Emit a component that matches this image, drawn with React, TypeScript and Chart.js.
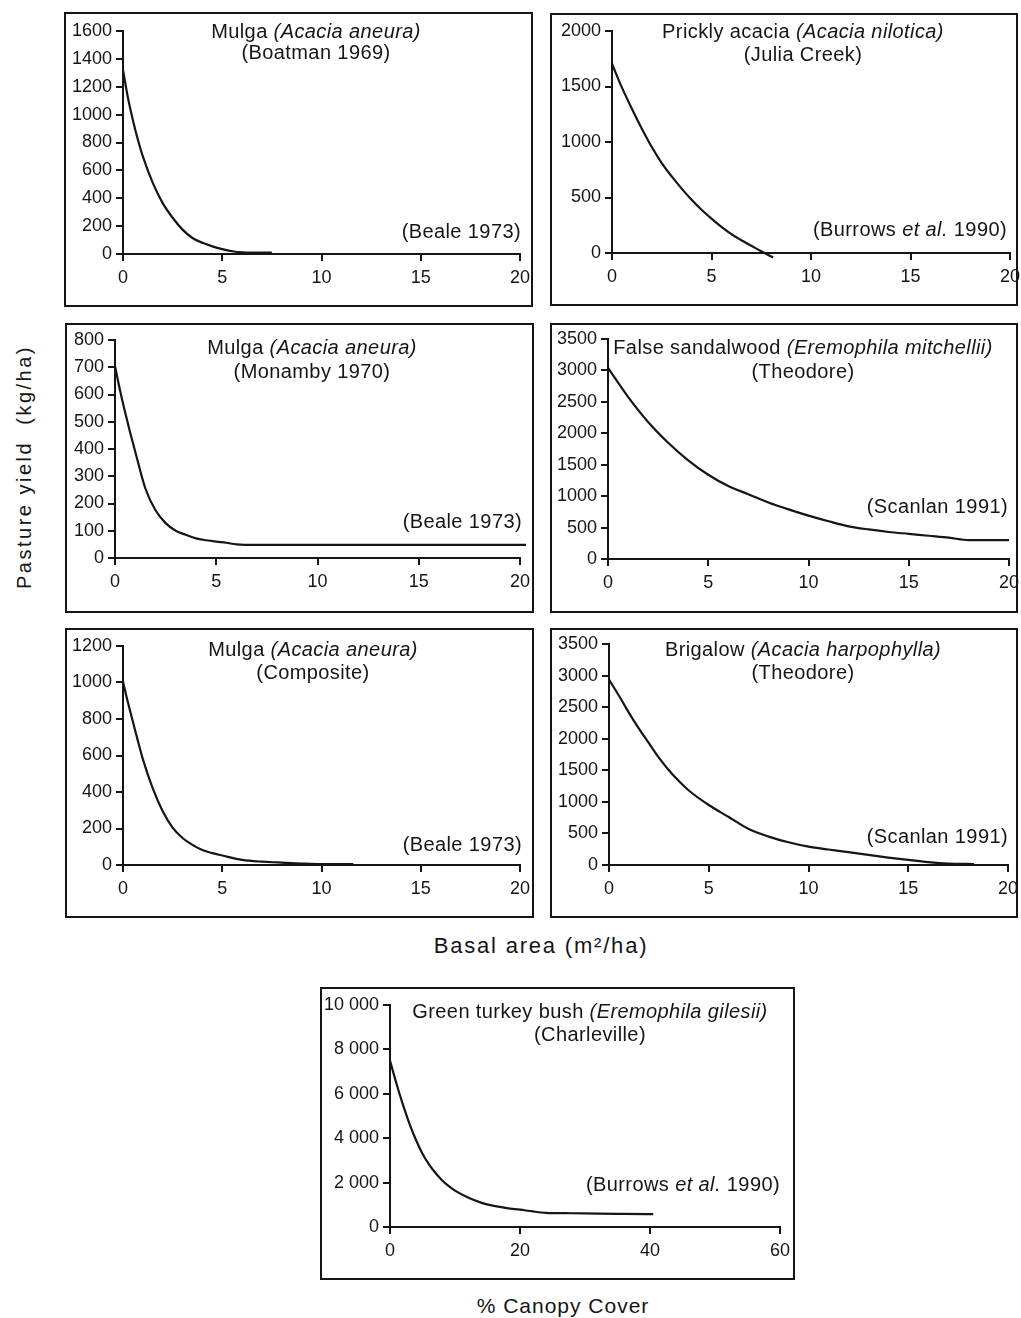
import React, { useEffect, useRef } from "react";
import { Chart, registerables } from "chart.js";
Chart.register(...registerables);

// ---------- data ----------
const boatmanX = [0, 0.25, 0.5, 0.75, 1, 1.5, 2, 2.5, 3, 3.5, 4, 4.5, 5, 5.5, 6, 6.5, 7, 7.5];
const boatmanY = [1320, 1120, 960, 820, 700, 510, 365, 260, 175, 115, 80, 55, 35, 20, 12, 10, 10, 10];

const juliaCreekX = [0, 0.5, 1, 1.5, 2, 2.5, 3, 3.5, 4, 4.5, 5, 5.5, 6, 6.5, 7, 7.5, 8.1];
const juliaCreekY = [1705, 1490, 1300, 1120, 955, 810, 690, 580, 480, 390, 310, 235, 170, 115, 65, 15, -40];

const monambyX = [0, 0.25, 0.5, 0.75, 1, 1.5, 2, 2.5, 3, 3.5, 4, 4.5, 5, 5.5, 6, 7, 10, 15, 20.3];
const monambyY = [705, 615, 535, 460, 390, 255, 175, 128, 100, 85, 72, 65, 60, 56, 50, 48, 48, 48, 48];

const sandalwoodX = [0, 1, 2, 3, 4, 5, 6, 7, 8, 9, 10, 11, 12, 13, 14, 15, 16, 17, 18, 19, 20, 20.3];
const sandalwoodY = [3040, 2580, 2180, 1850, 1570, 1340, 1160, 1030, 900, 790, 690, 600, 520, 470, 430, 400, 370, 340, 300, 300, 300, 300];

const compositeX = [0, 0.25, 0.5, 0.75, 1, 1.5, 2, 2.5, 3, 3.5, 4, 4.5, 5, 6, 7, 7.8, 9, 10, 11, 11.6];
const compositeY = [1005, 890, 785, 680, 580, 420, 295, 205, 148, 110, 82, 65, 52, 28, 18, 14, 8, 5, 5, 5];

const brigalowX = [0, 0.5, 1, 1.5, 2, 2.5, 3, 3.5, 4, 5, 6, 7, 8, 9, 10, 11, 12, 13, 14, 15, 16, 17, 18.3];
const brigalowY = [2935, 2680, 2410, 2160, 1930, 1700, 1500, 1330, 1180, 950, 760, 570, 450, 360, 290, 245, 205, 160, 118, 80, 45, 22, 15];

const turkeyBushX = [0, 1, 2, 3, 4, 5, 6, 7, 8, 9, 10, 12, 14, 16, 18, 20, 22, 24, 28, 32, 36, 40.5];
const turkeyBushY = [7500, 6450, 5500, 4650, 3920, 3300, 2820, 2430, 2110, 1850, 1640, 1330, 1100, 950, 850, 780, 700, 640, 620, 600, 590, 580];

// axis ranges / tick steps
const basalAxis = { max: 20, step: 5 };
const canopyAxis = { max: 60, step: 20 };
const yAxisBoatman = { max: 1600, step: 200 };
const yAxisJulia = { max: 2000, step: 500 };
const yAxisMonamby = { max: 800, step: 100 };
const yAxisSandalwood = { max: 3500, step: 500 };
const yAxisComposite = { max: 1200, step: 200 };
const yAxisBrigalow = { max: 3500, step: 500 };
const yAxisTurkey = { max: 10000, step: 2000 };

// texts
type Seg = { t: string; it?: boolean };
const titleBoatman: Seg[][] = [[{ t: "Mulga " }, { t: "(Acacia aneura)", it: true }], [{ t: "(Boatman 1969)" }]];
const titleJulia: Seg[][] = [[{ t: "Prickly acacia " }, { t: "(Acacia nilotica)", it: true }], [{ t: "(Julia Creek)" }]];
const titleMonamby: Seg[][] = [[{ t: "Mulga " }, { t: "(Acacia aneura)", it: true }], [{ t: "(Monamby 1970)" }]];
const titleSandalwood: Seg[][] = [[{ t: "False sandalwood " }, { t: "(Eremophila mitchellii)", it: true }], [{ t: "(Theodore)" }]];
const titleComposite: Seg[][] = [[{ t: "Mulga " }, { t: "(Acacia aneura)", it: true }], [{ t: "(Composite)" }]];
const titleBrigalow: Seg[][] = [[{ t: "Brigalow " }, { t: "(Acacia harpophylla)", it: true }], [{ t: "(Theodore)" }]];
const titleTurkey: Seg[][] = [[{ t: "Green turkey bush " }, { t: "(Eremophila gilesii)", it: true }], [{ t: "(Charleville)" }]];
const noteBeale: Seg[] = [{ t: "(Beale 1973)" }];
const noteBurrows: Seg[] = [{ t: "(Burrows " }, { t: "et al.", it: true }, { t: " 1990)" }];
const noteScanlan: Seg[] = [{ t: "(Scanlan 1991)" }];

const yTitle = "Pasture yield  (kg/ha)";
const xTitleBasal = "Basal area (m\u00B2/ha)";
const xTitleCanopy = "% Canopy Cover";

// ---------- layout ----------
const FONT = '"Liberation Sans", Arial, Helvetica, sans-serif';
const INK = "#151515";
const M = 6; // canvas margin outside the framed box

type Panel = {
  key: string;
  box: [number, number, number, number]; // left, top, right, bottom (page px)
  x0: number; xEnd: number; y0: number; yTop: number;
  xs: number[]; ys: number[];
  xAxis: { max: number; step: number };
  yAxis: { max: number; step: number };
  title: Seg[][]; titleCx: number; titleYs: number[];
  note: Seg[]; noteRight: number; noteY: number;
  spaced?: boolean;
};

const panels: Panel[] = [
  { key: "p1", box: [64, 12, 533, 307], x0: 123, xEnd: 520, y0: 254, yTop: 31, xs: boatmanX, ys: boatmanY, xAxis: basalAxis, yAxis: yAxisBoatman, title: titleBoatman, titleCx: 316, titleYs: [32, 53], note: noteBeale, noteRight: 521, noteY: 232 },
  { key: "p2", box: [550, 13, 1018, 306], x0: 612, xEnd: 1010, y0: 253, yTop: 31, xs: juliaCreekX, ys: juliaCreekY, xAxis: basalAxis, yAxis: yAxisJulia, title: titleJulia, titleCx: 803, titleYs: [32, 55], note: noteBurrows, noteRight: 1007, noteY: 230 },
  { key: "p3", box: [65, 323, 534, 613], x0: 115, xEnd: 520, y0: 558, yTop: 340, xs: monambyX, ys: monambyY, xAxis: basalAxis, yAxis: yAxisMonamby, title: titleMonamby, titleCx: 312, titleYs: [348, 372], note: noteBeale, noteRight: 522, noteY: 522 },
  { key: "p4", box: [550, 323, 1018, 613], x0: 608, xEnd: 1009, y0: 559, yTop: 339, xs: sandalwoodX, ys: sandalwoodY, xAxis: basalAxis, yAxis: yAxisSandalwood, title: titleSandalwood, titleCx: 803, titleYs: [348, 372], note: noteScanlan, noteRight: 1008, noteY: 507 },
  { key: "p5", box: [65, 628, 534, 918], x0: 123, xEnd: 520, y0: 865, yTop: 646, xs: compositeX, ys: compositeY, xAxis: basalAxis, yAxis: yAxisComposite, title: titleComposite, titleCx: 313, titleYs: [650, 673], note: noteBeale, noteRight: 522, noteY: 845 },
  { key: "p6", box: [550, 628, 1018, 918], x0: 609, xEnd: 1008, y0: 865, yTop: 644, xs: brigalowX, ys: brigalowY, xAxis: basalAxis, yAxis: yAxisBrigalow, title: titleBrigalow, titleCx: 803, titleYs: [650, 673], note: noteScanlan, noteRight: 1008, noteY: 837 },
  { key: "p7", box: [320, 987, 795, 1280], x0: 390, xEnd: 780, y0: 1227, yTop: 1005, xs: turkeyBushX, ys: turkeyBushY, xAxis: canopyAxis, yAxis: yAxisTurkey, title: titleTurkey, titleCx: 590, titleYs: [1012, 1035], note: noteBurrows, noteRight: 780, noteY: 1185, spaced: true },
];

const fmtPlain = (v: number) => String(v);
const fmtSpaced = (v: number) => {
  const s = String(Math.round(v));
  return s.length > 3 ? s.slice(0, s.length - 3) + " " + s.slice(s.length - 3) : s;
};

const decorPlugin = {
  id: "panelDecor",
  afterDraw(chart: any, _args: any, opts: any) {
    const ctx = chart.ctx as CanvasRenderingContext2D;
    ctx.save();
    ctx.strokeStyle = INK;
    ctx.lineWidth = 2;
    ctx.strokeRect(M + 1, M + 1, chart.width - 2 * M - 2, chart.height - 2 * M - 2);
    ctx.fillStyle = INK;
    ctx.textBaseline = "middle";
    ctx.textAlign = "left";
    (ctx as any).letterSpacing = "0.4px";
    const fontFor = (it?: boolean) => `${it ? "italic " : ""}20px ${FONT}`;
    const measure = (segs: Seg[]) =>
      segs.reduce((w, s) => {
        ctx.font = fontFor(s.it);
        return w + ctx.measureText(s.t).width;
      }, 0);
    const drawLine = (segs: Seg[], x: number, y: number) => {
      let cx = x;
      segs.forEach((s) => {
        ctx.font = fontFor(s.it);
        ctx.fillText(s.t, cx, y);
        cx += ctx.measureText(s.t).width;
      });
    };
    (opts.lines as Seg[][]).forEach((segs, i) => {
      const w = measure(segs);
      drawLine(segs, opts.cx - w / 2, opts.ys[i]);
    });
    const nw = measure(opts.note);
    drawLine(opts.note, opts.noteRight - nw, opts.noteY);
    ctx.restore();
  },
};

function PanelChart({ p }: { p: Panel }) {
  const ref = useRef<HTMLCanvasElement | null>(null);
  const L = p.box[0] - M;
  const T = p.box[1] - M;
  const R = p.box[2] + M;
  const B = p.box[3] + M;
  const W = R - L;
  const H = B - T;
  useEffect(() => {
    if (!ref.current) return;
    const yW = p.x0 - L;
    const xH = B - p.y0;
    const tickFont = { family: FONT, size: 18 };
    const chart = new Chart(ref.current, {
      type: "line",
      data: {
        datasets: [
          {
            data: p.xs.map((x, i) => ({ x, y: p.ys[i] })),
            borderColor: INK,
            borderWidth: 2.2,
            pointRadius: 0,
            fill: false,
            cubicInterpolationMode: "monotone",
            clip: false as any,
          },
        ],
      },
      options: {
        responsive: false,
        animation: false,
        events: [],
        layout: { padding: { left: 0, top: p.yTop - T, right: R - p.xEnd, bottom: 0 } },
        plugins: {
          legend: { display: false },
          tooltip: { enabled: false },
          title: { display: false },
          panelDecor: {
            lines: p.title,
            cx: p.titleCx - L,
            ys: p.titleYs.map((y) => y - T),
            note: p.note,
            noteRight: p.noteRight - L,
            noteY: p.noteY - T,
          },
        } as any,
        scales: {
          x: {
            type: "linear",
            min: 0,
            max: p.xAxis.max,
            ticks: { stepSize: p.xAxis.step, color: INK, font: tickFont, padding: 6, maxRotation: 0, autoSkip: false, callback: (v: any) => fmtPlain(Number(v)) },
            grid: { drawOnChartArea: false, drawTicks: true, tickLength: 7, color: INK, lineWidth: 2 },
            border: { display: true, color: INK, width: 2 },
            afterFit: (s: any) => {
              s.height = xH;
              s.paddingLeft = 0;
              s.paddingRight = 0;
            },
          },
          y: {
            type: "linear",
            min: 0,
            max: p.yAxis.max,
            ticks: { stepSize: p.yAxis.step, color: INK, font: tickFont, padding: 4, autoSkip: false, callback: (v: any) => (p.spaced ? fmtSpaced(Number(v)) : fmtPlain(Number(v))) },
            grid: { drawOnChartArea: false, drawTicks: true, tickLength: 7, color: INK, lineWidth: 2 },
            border: { display: true, color: INK, width: 2 },
            afterFit: (s: any) => {
              s.width = yW;
              s.paddingTop = 0;
              s.paddingBottom = 0;
            },
          },
        },
      } as any,
      plugins: [decorPlugin as any],
    });
    return () => chart.destroy();
  }, []);
  return (
    <canvas
      ref={ref}
      width={W}
      height={H}
      style={{ position: "absolute", left: L, top: T, width: W, height: H }}
    />
  );
}

export default function App() {
  const label: React.CSSProperties = {
    position: "absolute",
    fontFamily: FONT,
    color: INK,
    whiteSpace: "pre",
    lineHeight: 1,
  };
  return (
    <div style={{ position: "absolute", left: 0, top: 0, width: 1021, height: 1318, background: "#fff", overflow: "hidden" }}>
      {panels.map((p) => (
        <PanelChart key={p.key} p={p} />
      ))}
      <div
        style={{
          ...label,
          fontSize: 20,
          letterSpacing: "2.5px",
          left: 24,
          top: 467,
          transform: "translate(-50%, -50%) rotate(-90deg)",
        }}
      >
        {yTitle}
      </div>
      <div style={{ ...label, fontSize: 22, letterSpacing: "1.8px", left: 541, top: 946, transform: "translate(-50%, -50%)" }}>
        {xTitleBasal}
      </div>
      <div style={{ ...label, fontSize: 21, letterSpacing: "1px", left: 563, top: 1305, transform: "translate(-50%, -50%)" }}>
        {xTitleCanopy}
      </div>
    </div>
  );
}
